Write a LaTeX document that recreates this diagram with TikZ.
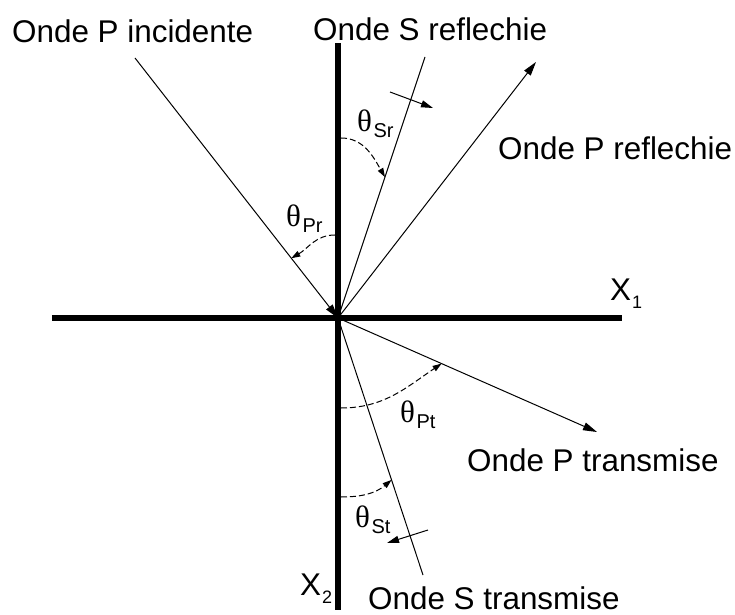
\documentclass[tikz,border=0pt]{standalone}
\usepackage{fontspec}
\setmainfont{Liberation Sans}
\newfontfamily\thetafnt{Liberation Serif}
\usepackage{tikz}
\usetikzlibrary{arrows.meta, calc}
\newcommand{\lblfont}{\fontsize{31.4bp}{36bp}\selectfont}
\newcommand{\angsub}[1]{{\thetafnt\fontsize{31bp}{32bp}\selectfont θ}\kern1.5bp\raisebox{-6bp}{\fontsize{20bp}{22bp}\selectfont #1}}
\newcommand{\axsub}[2]{#1\kern1bp\raisebox{-8bp}{\fontsize{18bp}{20bp}\selectfont #2}}
\tikzset{
    axisline/.style={line width=6bp},
    waveline/.style={line width=1bp},
    wavearrow/.style={line width=1bp, -{Triangle[length=14bp,width=8bp]}},
    anglearc/.style={line width=1bp, dash pattern=on 6bp off 3bp, -{Triangle[length=9bp,width=6bp]}},
    polarrow/.style={line width=1bp, -{Triangle[length=12bp,width=7bp]}},
    lbl/.style={font=\lblfont, inner sep=0pt, anchor=base west}
}
\begin{document}
\begin{tikzpicture}[x=100bp, y=100bp]
    \useasboundingbox (-3.38,-2.97) rectangle (3.97,3.18);
    \coordinate (O) at (0,0);
    \coordinate (Pi) at (-2.03,2.60);
    \coordinate (Sr) at (0.87,2.61);
    \coordinate (Pr) at (1.98,2.56);
    \coordinate (Pt) at (2.59,-1.14);
    \coordinate (St) at (0.85,-2.57);

    % Axes
    \coordinate (X1a) at (-2.86,0);
    \coordinate (X1b) at (2.84,0);
    \coordinate (X2a) at (0,2.75);
    \coordinate (X2b) at (0,-2.92);
    \draw[axisline] (X1a) -- (X1b);
    \draw[axisline] (X2a) -- (X2b);

    % Waves
    \draw[wavearrow] (Pi) -- (O);
    \draw[waveline] (O) -- (Sr);
    \draw[wavearrow] (O) -- (Pr);
    \draw[wavearrow] (O) -- (Pt);
    \draw[waveline] (O) -- (St);

    % Polarisation of the S waves
    \coordinate (polSra) at (0.52,2.26);
    \coordinate (polSrb) at (0.95,2.10);
    \coordinate (polSta) at (0.90,-2.12);
    \coordinate (polStb) at (0.49,-2.25);
    \draw[polarrow] (polSra) -- (polSrb);
    \draw[polarrow] (polSta) -- (polStb);

    % Angles
    \coordinate (aSr) at (0.03,1.80);
    \coordinate (aPr) at (-0.03,0.83);
    \coordinate (aPt) at (0.03,-0.90);
    \coordinate (aSt) at (0.03,-1.79);
    \draw[anglearc] (aSr) to[out=0, in=120] ($(O)!0.54!(Sr)$);
    \draw[anglearc] (aPr) to[out=180, in=30] ($(O)!0.23!(Pi)$);
    \draw[anglearc] (aPt) to[out=0, in=-146] ($(O)!0.40!(Pt)$);
    \draw[anglearc] (aSt) to[out=0, in=-140] ($(O)!0.63!(St)$);

    % Labels
    \node[lbl] (tSr) at (0.19,1.86) {\angsub{Sr}};
    \node[lbl] (tPr) at (-0.52,0.91) {\angsub{Pr}};
    \node[lbl] (tPt) at (0.62,-1.04) {\angsub{Pt}};
    \node[lbl] (tSt) at (0.17,-2.09) {\angsub{St}};
    \node[lbl] (nPi) at (-3.26,2.75) {Onde P incidente};
    \node[lbl] (nSr) at (-0.25,2.77) {Onde S reflechie};
    \node[lbl] (nPr) at (1.60,1.58) {Onde P reflechie};
    \node[lbl] (nPt) at (1.29,-1.53) {Onde P transmise};
    \node[lbl] (nSt) at (0.30,-2.91) {Onde S transmise};
    \node[lbl] (nX1) at (2.72,0.18) {\axsub{X}{1}};
    \node[lbl] (nX2) at (-0.38,-2.77) {\axsub{X}{2}};
\end{tikzpicture}
\end{document}
